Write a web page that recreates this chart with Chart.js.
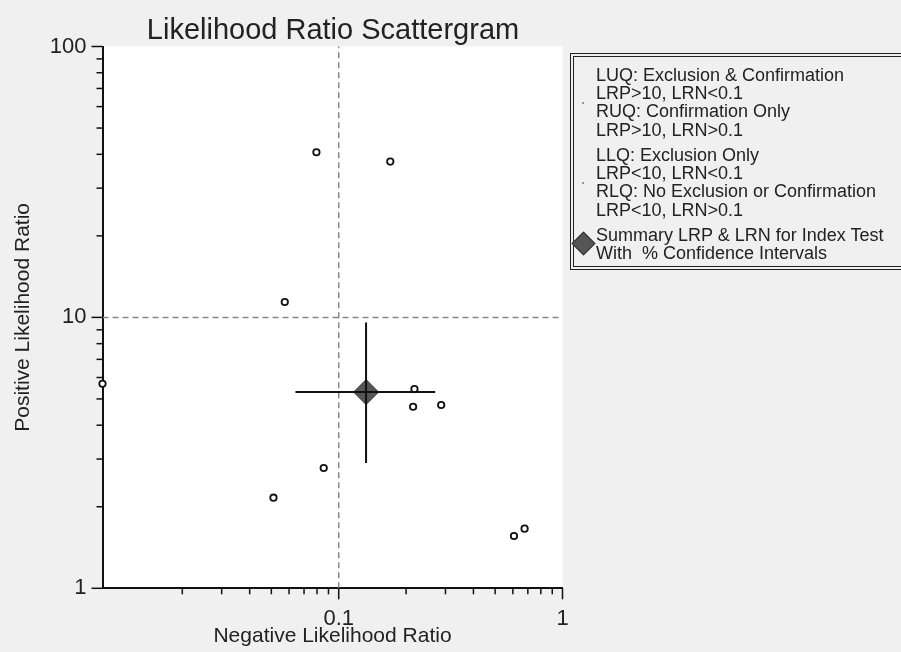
<!DOCTYPE html>
<html>
<head>
<meta charset="utf-8">
<script src="https://cdn.jsdelivr.net/npm/chart.js@4/dist/chart.umd.min.js"></script>
<style>
  body { margin: 0; background: #f0f0f0; font-family: "Liberation Sans", Arial, sans-serif; color: #222; }
  #wrap { position: relative; width: 901px; height: 652px; overflow: hidden; }
  #title { position: absolute; left: 333px; top: 15px; transform: translateX(-50%); font-size: 29px; line-height: 29px; white-space: nowrap; }
  #legend { position: absolute; left: 570px; top: 53px; width: 340px; height: 209px; border: 4px double #222; border-right: none; font-size: 18px; line-height: 18.3px; }
  #legend .grp { position: absolute; left: 22px; white-space: nowrap; }
  #legend .dot { position: absolute; width: 2px; height: 2px; background: #999; }
  #legend .dia { position: absolute; left: 1px; top: 177.5px; width: 17px; height: 17px; background: #555; border: 1px solid #333; box-sizing: border-box; transform: rotate(45deg); }
</style>
</head>
<body>
<div id="wrap">
  <canvas id="chart" width="901" height="652"></canvas>
  <div id="title">Likelihood Ratio Scattergram</div>
  <div id="legend">
    <div class="grp" style="top:8.8px">LUQ: Exclusion &amp; Confirmation<br>LRP&gt;10, LRN&lt;0.1<br>RUQ: Confirmation Only<br>LRP&gt;10, LRN&gt;0.1</div>
    <div class="grp" style="top:88.8px">LLQ: Exclusion Only<br>LRP&lt;10, LRN&lt;0.1<br>RLQ: No Exclusion or Confirmation<br>LRP&lt;10, LRN&gt;0.1</div>
    <div class="grp" style="top:168.8px">Summary LRP &amp; LRN for Index Test<br>With&nbsp; % Confidence Intervals</div>
    <span class="dot" style="left:8px;top:45px"></span>
    <span class="dot" style="left:8px;top:125px"></span>
    <span class="dia"></span>
  </div>
</div>
<script>
// studies: negative LR (x) and positive LR (y)
const studyLRN = [0.0088, 0.0795, 0.170, 0.0574, 0.218, 0.215, 0.287, 0.0857, 0.0511, 0.607, 0.677];
const studyLRP = [5.69, 40.7, 37.6, 11.4, 5.44, 4.68, 4.75, 2.78, 2.16, 1.56, 1.66];

// summary point with confidence intervals
const sumLRN = 0.1325, sumLRP = 5.30;
const ciLRN = [0.0641, 0.270];
const ciLRP = [2.90, 9.58];

// quadrant cut-offs and axis range
const cutLRN = 0.1, cutLRP = 10;
const xRange = [0.0088, 1];
const yRange = [1, 100];

// tick positions
const xTicks = [0.02, 0.03, 0.04, 0.05, 0.06, 0.07, 0.08, 0.09, 0.1, 0.2, 0.3, 0.4, 0.5, 0.6, 0.7, 0.8, 0.9, 1];
const yTicks = [1, 2, 3, 4, 5, 6, 7, 8, 9, 10, 20, 30, 40, 50, 60, 70, 80, 90, 100];
const xLabels = [0.1, 1];
const yLabels = [1, 10, 100];

const FONT = '"Liberation Sans", Arial, sans-serif';

const plotBg = {
    id: 'plotBg',
    beforeDraw(chart) {
        const { ctx, chartArea: a } = chart;
        ctx.save();
        ctx.fillStyle = '#f0f0f0';
        ctx.fillRect(0, 0, chart.width, chart.height);
        ctx.fillStyle = '#fff';
        ctx.fillRect(a.left, a.top, a.right - a.left, a.bottom - a.top);
        ctx.restore();
    }
};

// tick marks: longer on the decades
const tickMarks = {
    id: 'tickMarks',
    afterDraw(chart) {
        const { ctx, chartArea: a, scales: { x, y } } = chart;
        ctx.save();
        ctx.strokeStyle = '#111';
        ctx.lineWidth = 1.5;
        x.ticks.forEach(t => {
            const px = x.getPixelForValue(t.value);
            const len = xLabels.includes(t.value) ? 11 : 6;
            ctx.beginPath(); ctx.moveTo(px, a.bottom); ctx.lineTo(px, a.bottom + len); ctx.stroke();
        });
        y.ticks.forEach(t => {
            const py = y.getPixelForValue(t.value);
            const len = yLabels.includes(t.value) ? 11 : 6;
            ctx.beginPath(); ctx.moveTo(a.left, py); ctx.lineTo(a.left - len, py); ctx.stroke();
        });
        ctx.restore();
    }
};

const lineSet = (data, extra) => Object.assign({
    type: 'scatter', data, showLine: true, pointRadius: 0, fill: false, clip: false
}, extra);

new Chart(document.getElementById('chart'), {
    type: 'scatter',
    data: {
        datasets: [
            lineSet([{ x: ciLRN[0], y: sumLRP }, { x: ciLRN[1], y: sumLRP }], { borderColor: '#111', borderWidth: 2 }),
            lineSet([{ x: sumLRN, y: ciLRP[0] }, { x: sumLRN, y: ciLRP[1] }], { borderColor: '#111', borderWidth: 2 }),
            {
                data: [{ x: sumLRN, y: sumLRP }],
                pointStyle: 'rectRot', pointRadius: 12.5,
                backgroundColor: '#555', borderColor: '#333', borderWidth: 1, clip: false
            },
            {
                data: studyLRN.map((v, i) => ({ x: v, y: studyLRP[i] })),
                pointStyle: 'circle', pointRadius: 3.2,
                backgroundColor: '#fff', borderColor: '#111', borderWidth: 1.8, clip: false
            },
            lineSet([{ x: cutLRN, y: yRange[0] }, { x: cutLRN, y: yRange[1] }], { borderColor: '#888', borderWidth: 1.5, borderDash: [6, 4] }),
            lineSet([{ x: xRange[0], y: cutLRP }, { x: xRange[1], y: cutLRP }], { borderColor: '#888', borderWidth: 1.5, borderDash: [6, 4] })
        ]
    },
    options: {
        responsive: false,
        animation: false,
        layout: { padding: { left: 0, top: 46.5, right: 338.5, bottom: 0 } },
        plugins: { legend: { display: false }, tooltip: { enabled: false }, title: { display: false } },
        scales: {
            x: {
                type: 'logarithmic', min: xRange[0], max: xRange[1],
                afterBuildTicks: s => { s.ticks = xTicks.map(v => ({ value: v })); },
                afterFit: s => { s.height = 63.7; },
                grid: { display: true, drawOnChartArea: false, drawTicks: false },
                border: { display: true, color: '#111', width: 2 },
                ticks: {
                    autoSkip: false, maxRotation: 0, padding: 17,
                    color: '#222', font: { family: FONT, size: 22 },
                    callback: v => xLabels.includes(v) ? String(v) : ''
                },
                title: {
                    display: true, text: 'Negative Likelihood Ratio', color: '#222',
                    font: { family: FONT, size: 21 }, padding: { top: 0, bottom: 3 }
                }
            },
            y: {
                type: 'logarithmic', min: yRange[0], max: yRange[1],
                afterBuildTicks: s => { s.ticks = yTicks.map(v => ({ value: v })); },
                afterFit: s => { s.width = 102.5; },
                grid: { display: true, drawOnChartArea: false, drawTicks: false },
                border: { display: true, color: '#111', width: 2 },
                ticks: {
                    autoSkip: false, padding: 16,
                    color: '#222', font: { family: FONT, size: 22 },
                    callback: v => yLabels.includes(v) ? String(v) : ''
                },
                title: {
                    display: true, text: 'Positive Likelihood Ratio', color: '#222',
                    font: { family: FONT, size: 21 }, padding: { top: 11, bottom: 0 }
                }
            }
        }
    },
    plugins: [plotBg, tickMarks]
});
</script>
</body>
</html>
